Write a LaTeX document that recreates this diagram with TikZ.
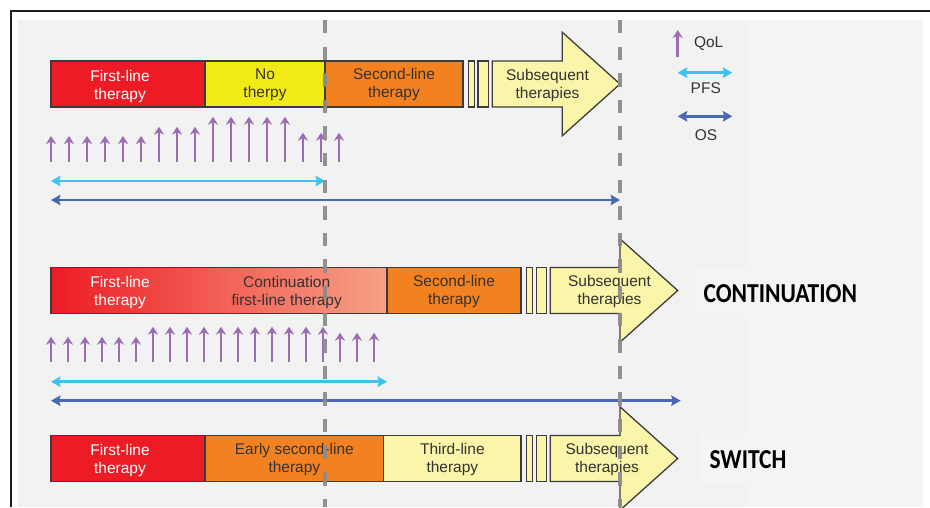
\documentclass[tikz,border=0pt]{standalone}
\usepackage{fontspec}
\setmainfont{Liberation Sans}
\newfontfamily\headfont{Carlito}
\usetikzlibrary{arrows.meta}

\definecolor{framecol}{HTML}{1E1E1E}
\definecolor{panel}{HTML}{F2F2F2}
\definecolor{panelr}{HTML}{F4F4F4}
\definecolor{edge}{HTML}{3C3C3C}
\definecolor{txt}{HTML}{333333}
\definecolor{firstred}{HTML}{ED1C24}
\definecolor{nothy}{HTML}{F2EA14}
\definecolor{secorange}{HTML}{F48120}
\definecolor{subyellow}{HTML}{FAF5A8}
\definecolor{contmid}{HTML}{F1634A}
\definecolor{contlight}{HTML}{F6A286}
\definecolor{qol}{HTML}{9E6CB6}
\definecolor{pfs}{HTML}{3CC2F0}
\definecolor{os}{HTML}{4A68B2}
\definecolor{guide}{HTML}{8C8C8C}

\begin{document}
\begin{tikzpicture}[x=1pt,y=-1pt,
  seg/.style={draw=edge, line width=1.3pt, inner sep=0pt, minimum height=46pt,
    text=txt, font=\fontsize{15.5}{18}\selectfont, align=center},
  lab/.style={font=\fontsize{15.5}{18}\selectfont, align=center, inner sep=0pt, text=txt},
  firstlab/.style={lab, text=white},
  bigarrow/.style={draw=edge, line width=1.3pt, fill=subyellow, line join=miter},
  qolarrow/.style={draw=qol, line width=2.4pt, -{Stealth[length=8pt,width=10pt,inset=2.5pt]}},
  pfsarrow/.style={draw=pfs, line width=2.9pt, {Stealth[length=9.5pt,width=10.5pt,inset=1.5pt]}-{Stealth[length=9.5pt,width=10.5pt,inset=1.5pt]}},
  osarrow/.style={draw=os, line width=2.9pt, {Stealth[length=9.5pt,width=10.5pt,inset=1.5pt]}-{Stealth[length=9.5pt,width=10.5pt,inset=1.5pt]}},
  headlab/.style={font=\headfont\bfseries\fontsize{24}{28}\selectfont, inner sep=0pt, anchor=west, text=black},
  guideline/.style={draw=guide, line width=3.2pt, dash pattern=on 13.3pt off 13.3pt, opacity=0.95}
]
\clip (0,0) rectangle (930,507);

% backdrop and frame
\fill[white] (0,0) rectangle (930,507);
\fill[panel] (18,20) rectangle (747,507);
\fill[panelr] (747,20) rectangle (923,507);
\fill[panelr] (694,267) rectangle (747,318);
\fill[panelr] (700,433) rectangle (747,484);
\draw[framecol, line width=1.4pt] (11,507) -- (11,11) -- (930,11);

% ---------- row 1 ----------
\node[seg, fill=firstred, minimum width=154pt] (r1a) at (128,84) {};
\node[firstlab] (r1alab) at (120,86) {First-line\\therapy};
\node[seg, fill=nothy, minimum width=120pt, text depth=2pt] (r1b) at (265,84) {No\\therpy};
\node[seg, fill=secorange, minimum width=138pt, text depth=2pt] (r1c) at (394,84) {Second-line\\therapy};
\node[seg, fill=subyellow, minimum width=5.6pt] (r1d) at (471.5,84) {};
\node[seg, fill=subyellow, minimum width=10.3pt] (r1e) at (483.15,84) {};
\draw[bigarrow] (492.3,61) -- (562.3,61) -- (562.3,32.3) -- (620,84) -- (562.3,135.7) -- (562.3,107) -- (492.3,107) -- cycle;
\node[lab] (r1f) at (547.5,85) {Subsequent\\therapies};

\foreach \i/\t in {51/136,69/136,87/136,105/136,123/136,141/136,
                   159/126.7,177/126.7,195/126.7,
                   213/116.7,231/116.7,249/116.7,267/116.7,285/116.7,
                   303/132.7,321/132.7,339/132.7}
  \draw[qolarrow] (\i,161.7) -- (\i,\t);

\coordinate (p1s) at (51,181);
\coordinate (p1e) at (325,181);
\draw[pfsarrow] (p1s) -- (p1e);
\coordinate (o1s) at (51,200);
\coordinate (o1e) at (620,200);
\draw[osarrow] (o1s) -- (o1e);

% legend
\coordinate (lq1) at (677.7,57);
\coordinate (lq2) at (677.7,30);
\draw[qolarrow, line width=2.6pt] (lq1) -- (lq2);
\node[lab] (lqol) at (708.7,44) {QoL};
\coordinate (lp1) at (677.7,72.7);
\coordinate (lp2) at (732.3,72.7);
\draw[pfsarrow] (lp1) -- (lp2);
\node[lab] (lpfs) at (705.8,88) {PFS};
\coordinate (lo1) at (677.7,116.3);
\coordinate (lo2) at (732.3,116.3);
\draw[osarrow] (lo1) -- (lo2);
\node[lab] (los) at (706,135.5) {OS};

% ---------- row 2 ----------
\node[seg, left color=firstred, middle color=contmid, right color=contlight,
      minimum width=336pt] (r2a) at (219,290.5) {};
\node[firstlab] (r2alab) at (120,292.5) {First-line\\therapy};
\node[lab] (r2blab) at (286.7,292.5) {Continuation\\first-line therapy};
\node[seg, fill=secorange, minimum width=134pt, text depth=2pt] (r2b) at (454,290.5) {Second-line\\therapy};
\node[seg, fill=subyellow, minimum width=5.6pt] (r2c) at (529.5,290.5) {};
\node[seg, fill=subyellow, minimum width=10.4pt] (r2d) at (541.5,290.5) {};
\draw[bigarrow] (550.3,267.5) -- (620,267.5) -- (620,238.8) -- (677.7,290.5) -- (620,342.2) -- (620,313.5) -- (550.3,313.5) -- cycle;
\node[lab] (r2e) at (609.5,291.5) {Subsequent\\therapies};
\node[headlab] (cont) at (703.3,294) {\scalebox{0.98}[1.14]{CONTINUATION}};

\foreach \k in {1,...,20}{
  \pgfmathsetmacro{\xx}{51+17*(\k-1)}
  \pgfmathsetmacro{\tt}{\k<7 ? 336.7 : (\k<18 ? 326.7 : 332.7)}
  \draw[qolarrow] (\xx,361.7) -- (\xx,\tt);
}

\coordinate (p2s) at (51,381.7);
\coordinate (p2e) at (387,381.7);
\draw[pfsarrow] (p2s) -- (p2e);
\coordinate (o2s) at (51,400.7);
\coordinate (o2e) at (680.7,400.7);
\draw[osarrow] (o2s) -- (o2e);

% ---------- row 3 ----------
\node[seg, fill=firstred, minimum width=154pt] (r3a) at (128,458.5) {};
\node[firstlab] (r3alab) at (120,460.5) {First-line\\therapy};
\node[seg, fill=secorange, minimum width=178.7pt, text depth=2pt] (r3b) at (294.35,458.5) {Early second-line\\therapy};
\node[seg, fill=subyellow, minimum width=137.3pt, text depth=2pt] (r3c) at (452.35,458.5) {Third-line\\therapy};
\node[seg, fill=subyellow, minimum width=5.6pt] (r3d) at (529.5,458.5) {};
\node[seg, fill=subyellow, minimum width=10.4pt] (r3e) at (541.5,458.5) {};
\draw[bigarrow] (550.3,435.5) -- (620,435.5) -- (620,406.8) -- (677.7,458.5) -- (620,510.2) -- (620,481.5) -- (550.3,481.5) -- cycle;
\node[lab] (r3f) at (607,459.5) {Subsequent\\therapies};
\node[headlab] (swit) at (709.3,460) {\scalebox{0.98}[1.14]{SWITCH}};

% time markers
\draw[guideline] (325,20) -- (325,507);
\draw[guideline] (620,20) -- (620,507);
\end{tikzpicture}
\end{document}
